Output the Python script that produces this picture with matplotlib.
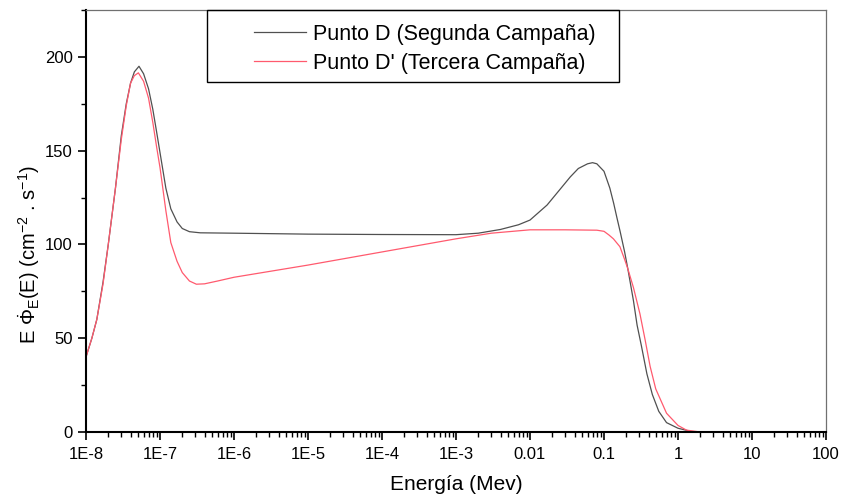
import matplotlib
matplotlib.use("Agg")
import matplotlib.pyplot as plt
from matplotlib.patches import Rectangle
from matplotlib.ticker import LogLocator, FixedLocator, MultipleLocator, NullFormatter

plt.rcParams['font.family'] = ['Liberation Sans', 'DejaVu Sans']
plt.rcParams['mathtext.fontset'] = 'custom'
plt.rcParams['mathtext.rm'] = 'Liberation Sans'
plt.rcParams['mathtext.it'] = 'Liberation Sans'
plt.rcParams['mathtext.bf'] = 'Liberation Sans:bold'

# ---- data ----
energy_d = [1.0e-8, 1.2e-8, 1.4e-8, 1.7e-8, 2.0e-8, 2.5e-8, 3.0e-8, 3.5e-8, 4.0e-8, 4.5e-8,
            5.2e-8, 6.0e-8, 7.0e-8, 8.0e-8, 9.0e-8, 1.0e-7, 1.2e-7, 1.4e-7, 1.7e-7, 2.0e-7,
            2.5e-7, 3.5e-7, 1e-6, 1e-5, 1e-4, 1e-3, 2e-3, 4e-3, 7e-3, 1e-2,
            1.7e-2, 2.5e-2, 3.5e-2, 4.5e-2, 6e-2, 7e-2, 8e-2, 0.1, 0.12, 0.135,
            0.15, 0.165, 0.19, 0.21, 0.25, 0.28, 0.32, 0.38, 0.45, 0.55,
            0.7, 1.0, 1.5, 2.0, 5.0, 10.0, 20.0]
flux_d = [40, 50, 60, 80, 100, 130, 158, 175, 186, 192,
          195, 191, 183, 172, 160, 149, 130, 119, 112, 108.5,
          106.8, 106.2, 106, 105.5, 105.3, 105.2, 106, 108, 110.5, 113,
          121, 129, 136, 140.5, 143, 143.6, 143, 139, 130, 122,
          114, 107, 96, 87, 70, 57, 46, 31, 20, 11,
          5, 2, 0.3, 0, 0, 0, 0]

energy_dp = [1.0e-8, 1.2e-8, 1.4e-8, 1.7e-8, 2.0e-8, 2.5e-8, 3.0e-8, 3.5e-8, 4.0e-8, 4.5e-8,
             5.1e-8, 6.0e-8, 7.0e-8, 8.0e-8, 9.0e-8, 1.0e-7, 1.2e-7, 1.4e-7, 1.7e-7, 2.0e-7,
             2.5e-7, 3.1e-7, 4e-7, 6e-7, 1e-6, 1e-5, 1e-4, 1e-3, 3e-3, 1e-2,
             3e-2, 8e-2, 0.1, 0.117, 0.134, 0.164, 0.19, 0.21, 0.25, 0.306,
             0.36, 0.42, 0.5, 0.7, 1.0, 1.3, 2.0, 5.0, 10.0, 20.0]
flux_dp = [40, 50, 60, 79, 100, 130, 156, 174, 186, 190,
           191.5, 187, 178, 165, 152, 141, 118, 101, 91, 85,
           80.5, 78.8, 79, 80.5, 82.5, 89, 96, 103, 106, 107.8,
           107.8, 107.6, 107, 105, 103, 98.8, 92, 87, 77, 63,
           49, 35, 23, 10, 3.5, 1, 0, 0, 0, 0]

series_labels = ["Punto D (Segunda Campaña)", "Punto D' (Tercera Campaña)"]
x_ticks = [1e-8, 1e-7, 1e-6, 1e-5, 1e-4, 1e-3, 1e-2, 1e-1, 1, 10, 100]
x_tick_labels = ["1E-8", "1E-7", "1E-6", "1E-5", "1E-4", "1E-3", "0.01", "0.1", "1", "10", "100"]
y_ticks = [0, 50, 100, 150, 200]

# ---- figure ----
fig = plt.figure(figsize=(8.41, 5.0), dpi=100)
ax = fig.add_axes([86/841, 68/500, 740/841, 422/500])

ax.plot(energy_d, flux_d, color='#505050', lw=0.9, label=series_labels[0])
ax.plot(energy_dp, flux_dp, color='#ff5a6e', lw=0.9, label=series_labels[1])

ax.set_xscale('log')
ax.set_xlim(1e-8, 100)
ax.set_ylim(0, 225)
ax.xaxis.set_major_locator(FixedLocator(x_ticks))
ax.set_xticklabels(x_tick_labels)
ax.xaxis.set_minor_locator(LogLocator(base=10, subs=range(2, 10), numticks=100))
ax.xaxis.set_minor_formatter(NullFormatter())
ax.set_yticks(y_ticks)
ax.yaxis.set_minor_locator(MultipleLocator(25))

ax.tick_params(axis='both', which='major', direction='out', length=6, width=1.2,
               labelsize=12, colors='black')
ax.tick_params(axis='both', which='minor', direction='out', length=3.5, width=1.0)
ax.tick_params(axis='x', pad=5)

for s in ['left', 'bottom']:
    ax.spines[s].set_linewidth(1.5)
    ax.spines[s].set_color('black')
for s in ['top', 'right']:
    ax.spines[s].set_linewidth(0.9)
    ax.spines[s].set_color('#707070')

ax.set_xlabel('Energía (Mev)', fontsize=15, labelpad=9)
ax.set_ylabel(r'E $\dot{\Phi}_{\rm E}$(E) (cm$^{-2}$ . s$^{-1}$)', fontsize=14.5)
ax.yaxis.set_label_coords((42-86)/740, (432-255)/422)

# legend frame
ax.add_patch(Rectangle(((207-86)/740, (432-82)/422), 412/740, 72/422,
                       transform=ax.transAxes, fill=False, edgecolor='black',
                       lw=1.0, zorder=5, clip_on=False))
leg = ax.legend(loc='upper left', bbox_to_anchor=((240-86)/740, 1.0), frameon=False,
                fontsize=15.5, handlelength=2.4, handletextpad=0.35, labelspacing=0.35,
                borderaxespad=0.0, borderpad=0.65)

fig.savefig('out.png', dpi=100, facecolor='white')
